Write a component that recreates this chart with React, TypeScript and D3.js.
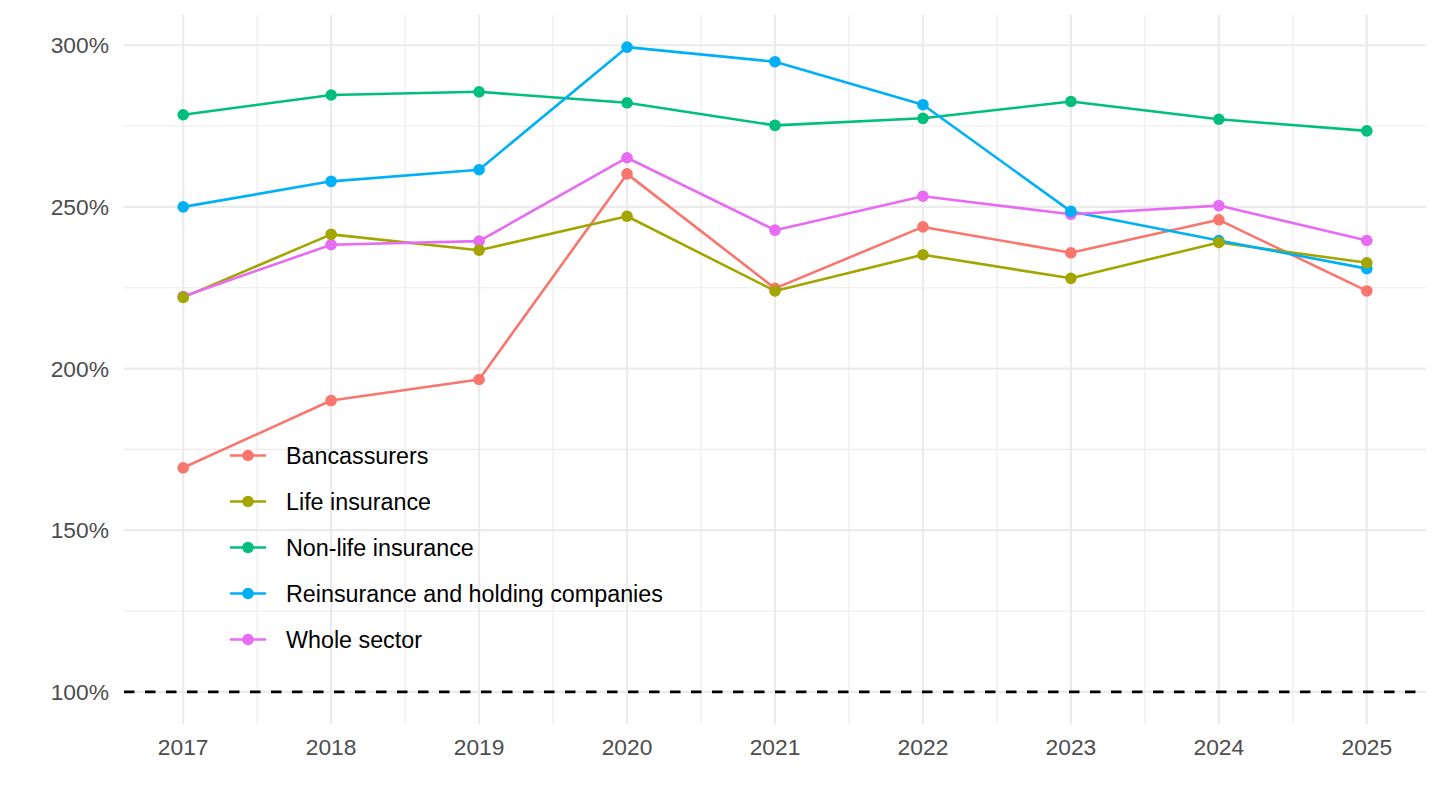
import * as d3 from 'd3';
import React, { useEffect, useRef } from 'react';

const years = [2017, 2018, 2019, 2020, 2021, 2022, 2023, 2024, 2025];

const bancassurers = [169.3, 190.1, 196.6, 260.2, 224.8, 243.8, 235.8, 246.0, 224.0];
const lifeInsurance = [222.0, 241.5, 236.6, 247.1, 224.0, 235.2, 227.9, 239.0, 232.7];
const nonLifeInsurance = [278.5, 284.6, 285.6, 282.2, 275.2, 277.4, 282.6, 277.1, 273.5];
const reinsurance = [250.0, 257.9, 261.5, 299.4, 294.9, 281.6, 248.6, 239.6, 230.9];
const wholeSector = [222.3, 238.3, 239.4, 265.2, 242.8, 253.3, 247.7, 250.4, 239.6];

const seriesNames = ['Bancassurers', 'Life insurance', 'Non-life insurance', 'Reinsurance and holding companies', 'Whole sector'];
const seriesColors = ['#F8766D', '#A3A500', '#00BF7D', '#00B0F6', '#E76BF3'];
const seriesValues = [bancassurers, lifeInsurance, nonLifeInsurance, reinsurance, wholeSector];

const yTicks = [100, 150, 200, 250, 300];
const yMinorTicks = [125, 175, 225, 275];
const thresholdLine = 100;

// order the points are painted in (olive ends up on top in the reference)
const pointOrder = [4, 0, 2, 3, 1];

const FONT = '"Liberation Sans", Arial, Helvetica, sans-serif';

const App = () => {
  const svgRef = useRef<SVGSVGElement | null>(null);

  useEffect(() => {
    if (!svgRef.current) {
      return;
    }
    const svg = d3.select(svgRef.current);
    svg.selectAll('*').remove();

    const panel = { left: 124, right: 1426, top: 15, bottom: 724 };

    const x = d3.scaleLinear().domain([2016.6, 2025.4]).range([panel.left, panel.right]);
    const y = d3.scaleLinear().domain([90.05, 309.35]).range([panel.bottom, panel.top]);

    const grid = svg.append('g');
    const xMinor = years.slice(0, -1).map((d) => d + 0.5);

    grid
      .selectAll('.ymin')
      .data(yMinorTicks)
      .enter()
      .append('line')
      .attr('x1', panel.left)
      .attr('x2', panel.right)
      .attr('y1', (d) => y(d))
      .attr('y2', (d) => y(d))
      .attr('stroke', '#ebebeb')
      .attr('stroke-width', 1.1);

    grid
      .selectAll('.xmin')
      .data(xMinor)
      .enter()
      .append('line')
      .attr('x1', (d) => x(d))
      .attr('x2', (d) => x(d))
      .attr('y1', panel.top)
      .attr('y2', panel.bottom)
      .attr('stroke', '#ebebeb')
      .attr('stroke-width', 1.1);

    grid
      .selectAll('.ymaj')
      .data(yTicks)
      .enter()
      .append('line')
      .attr('x1', panel.left)
      .attr('x2', panel.right)
      .attr('y1', (d) => y(d))
      .attr('y2', (d) => y(d))
      .attr('stroke', '#ebebeb')
      .attr('stroke-width', 2.2);

    grid
      .selectAll('.xmaj')
      .data(years)
      .enter()
      .append('line')
      .attr('x1', (d) => x(d))
      .attr('x2', (d) => x(d))
      .attr('y1', panel.top)
      .attr('y2', panel.bottom)
      .attr('stroke', '#ebebeb')
      .attr('stroke-width', 2.2);

    // axis labels
    svg
      .append('g')
      .selectAll('text')
      .data(yTicks)
      .enter()
      .append('text')
      .attr('x', 109)
      .attr('y', (d) => y(d))
      .attr('dy', '0.36em')
      .attr('text-anchor', 'end')
      .attr('fill', '#4d4d4d')
      .style('font-family', FONT)
      .style('font-size', '22.8px')
      .text((d) => `${d}%`);

    svg
      .append('g')
      .selectAll('text')
      .data(years)
      .enter()
      .append('text')
      .attr('x', (d) => x(d))
      .attr('y', 747)
      .attr('dy', '0.36em')
      .attr('text-anchor', 'middle')
      .attr('fill', '#4d4d4d')
      .style('font-family', FONT)
      .style('font-size', '22.8px')
      .text((d) => String(d));

    // lines
    const line = d3
      .line<number>()
      .x((d, i) => x(years[i]))
      .y((d) => y(d));

    seriesValues.forEach((vals, s) => {
      svg
        .append('path')
        .attr('d', line(vals))
        .attr('fill', 'none')
        .attr('stroke', seriesColors[s])
        .attr('stroke-width', 2.6)
        .attr('stroke-linejoin', 'round');
    });

    pointOrder.forEach((s) => {
      svg
        .append('g')
        .selectAll('circle')
        .data(seriesValues[s])
        .enter()
        .append('circle')
        .attr('cx', (d, i) => x(years[i]))
        .attr('cy', (d) => y(d))
        .attr('r', 5.8)
        .attr('fill', seriesColors[s]);
    });

    // dashed threshold
    svg
      .append('line')
      .attr('x1', panel.left)
      .attr('x2', panel.right)
      .attr('y1', y(thresholdLine))
      .attr('y2', y(thresholdLine))
      .attr('stroke', '#000')
      .attr('stroke-width', 2.6)
      .attr('stroke-dasharray', '10.5,10.5');

    // legend
    const legend = svg.append('g').attr('transform', 'translate(230,455.5)');
    seriesNames.forEach((name, i) => {
      const row = legend.append('g').attr('transform', `translate(0,${i * 46})`);
      row.append('line').attr('x1', 0).attr('x2', 36).attr('y1', 0).attr('y2', 0).attr('stroke', seriesColors[i]).attr('stroke-width', 2.6);
      row.append('circle').attr('cx', 18).attr('cy', 0).attr('r', 5.8).attr('fill', seriesColors[i]);
      row
        .append('text')
        .attr('x', 56)
        .attr('y', 0)
        .attr('dy', '0.37em')
        .attr('fill', '#000')
        .style('font-family', FONT)
        .style('font-size', '23.3px')
        .text(name);
    });
  }, []);

  return (
    <svg
      ref={svgRef}
      width={1440}
      height={810}
      style={{ position: 'absolute', left: 0, top: 0, background: '#fff' }}
    />
  );
};

export default App;
